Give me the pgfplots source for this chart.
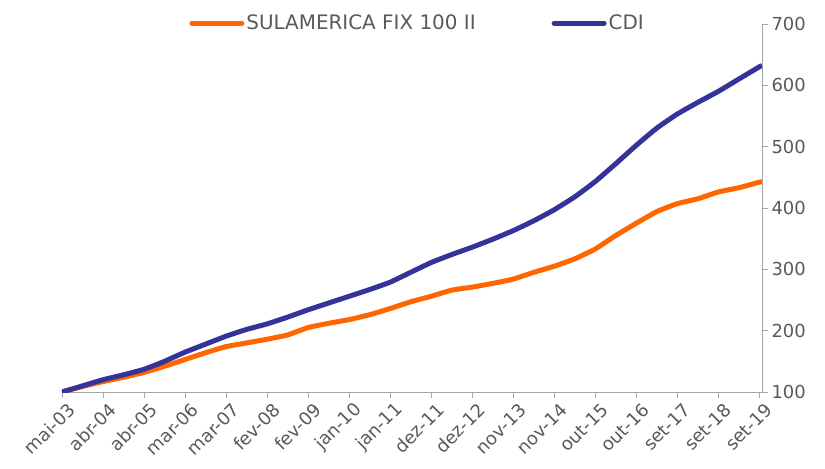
\documentclass[border=0pt]{standalone}
\usepackage{fontspec}
\setmainfont{DejaVu Sans}
\usepackage{pgfplots}
\pgfplotsset{compat=1.18}
\definecolor{sulorange}{HTML}{FF6600}
\definecolor{cdiblue}{HTML}{333399}
\definecolor{axgray}{HTML}{A6A6A6}
\definecolor{txtgray}{HTML}{595959}
\begin{document}
\begin{tikzpicture}
\path[use as bounding box] (-62bp,-77bp) rectangle (763bp,392bp);
\begin{axis}[
  at={(0,0)}, anchor=south west,
  scale only axis, width=700bp, height=368bp,
  xmin=0, xmax=17.07, ymin=100, ymax=700,
  axis x line*=bottom, axis y line*=right,
  axis line style={axgray, line width=0.9bp},
  tick style={axgray, line width=0.9bp},
  tick align=outside, major tick length=6bp,
  ytick={100,200,...,700},
  xtick={0,...,17},
  xticklabels={mai-03,abr-04,abr-05,mar-06,mar-07,fev-08,fev-09,jan-10,jan-11,dez-11,dez-12,nov-13,nov-14,out-15,out-16,set-17,set-18,set-19},
  /pgf/number format/assume math mode=true,
  yticklabel style={font=\fontsize{18}{20}\selectfont, text=txtgray},
  xticklabel style={font=\fontsize{18}{20}\selectfont, text=txtgray, rotate=45, anchor=east, xshift=4bp, yshift=-13bp},
  legend columns=2,
  legend style={at={(0.508,1.002)}, anchor=center, draw=none, fill=none,
    font=\fontsize{20}{22}\selectfont, text=txtgray,
    /tikz/every even column/.append style={column sep=74bp}},
  legend image code/.code={\draw[#1, line cap=round] (0bp,0bp) -- (50bp,0bp);},
]
\addplot[sulorange, line width=5bp, smooth, tension=0.3] coordinates {
(0,100) (0.5,109) (1,117) (1.5,124) (2,132) (2.5,142) (3,153) (3.5,164) (4,174) (4.5,180)
(5,186) (5.5,193) (6,205) (6.5,212) (7,218) (7.5,226) (8,236) (8.5,247) (9,256) (9.5,266)
(10,271) (10.5,277) (11,284) (11.5,295) (12,305) (12.5,317) (13,333) (13.5,355) (14,375) (14.5,394)
(15,407) (15.5,415) (16,426) (16.5,433) (17,442) (17.07,443)
};
\addlegendentry{SULAMERICA FIX 100 II}
\addplot[cdiblue, line width=5bp, smooth, tension=0.3] coordinates {
(0,100) (0.5,110) (1,120) (1.5,128) (2,137) (2.5,150) (3,165) (3.5,178) (4,191) (4.5,202)
(5,211) (5.5,222) (6,234) (6.5,245) (7,256) (7.5,267) (8,279) (8.5,295) (9,311) (9.5,324)
(10,336) (10.5,349) (11,363) (11.5,379) (12,397) (12.5,418) (13,443) (13.5,472) (14,502) (14.5,530)
(15,553) (15.5,572) (16,590) (16.5,610) (17,630) (17.07,632)
};
\addlegendentry{CDI}
\end{axis}
\end{tikzpicture}
\end{document}
